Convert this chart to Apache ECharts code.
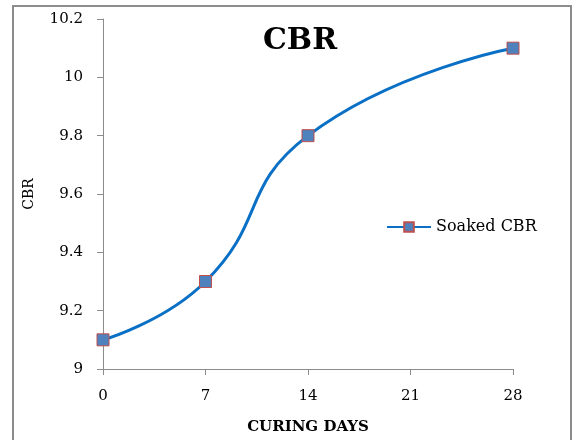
<!DOCTYPE html>
<html><head><meta charset="utf-8">
<script src="https://cdn.jsdelivr.net/npm/echarts@6/dist/echarts.min.js"></script>
<style>html,body{margin:0;padding:0;background:#fff}#c{width:576px;height:440px}</style>
</head><body><div id="c"></div>
<script>
var days = [0, 7, 14, 28];
var soakedCBR = [9.1, 9.3, 9.8, 10.1];
var xTicks = [0, 7, 14, 21, 28];
var seriesName = 'Soaked CBR';

var chart = echarts.init(document.getElementById('c'), null, {renderer: 'canvas'});
var serif = 'DejaVu Serif';
chart.setOption({
  animation: false,
  backgroundColor: '#fff',
  textStyle: {fontFamily: serif},
  graphic: [{type: 'rect', shape: {x: 13, y: 6, width: 558, height: 440}, style: {fill: 'none', stroke: '#8c8c8c', lineWidth: 2}}],
  title: {text: 'CBR', left: 295, top: 21, textAlign: 'center',
    textStyle: {fontFamily: serif, fontSize: 30, fontWeight: 'bold', color: '#000'}},
  legend: {left: 381, top: 214, orient: 'vertical', itemWidth: 44, itemHeight: 12, itemGap: 4,
    textStyle: {fontFamily: serif, fontSize: 16, fontWeight: 'normal', color: '#000'},
    data: [{name: seriesName}]},
  grid: {left: 103, right: 63, top: 19, bottom: 69},
  xAxis: {type: 'value', min: 0, max: 28, interval: 7,
    name: 'CURING DAYS', nameLocation: 'middle', nameGap: 51,
    nameTextStyle: {fontFamily: serif, fontSize: 15, fontWeight: 'bold', color: '#000'},
    axisLine: {lineStyle: {color: '#8c8c8c'}},
    axisTick: {show: true, length: 6, lineStyle: {color: '#8c8c8c'}},
    axisLabel: {fontFamily: serif, fontSize: 15, color: '#000', margin: 20},
    splitLine: {show: false}},
  yAxis: {type: 'value', min: 9, max: 10.2, interval: 0.2,
    name: 'CBR', nameLocation: 'middle', nameGap: 67, nameRotate: 90,
    nameTextStyle: {fontFamily: serif, fontSize: 14, color: '#000'},
    axisLine: {show: true, lineStyle: {color: '#8c8c8c'}},
    axisTick: {show: true, length: 6, lineStyle: {color: '#8c8c8c'}},
    axisLabel: {fontFamily: serif, fontSize: 15, color: '#000', margin: 20,
      formatter: function(v){ return String(Math.round(v*10)/10); }},
    splitLine: {show: false}},
  series: [{
    name: seriesName, type: 'line', smooth: 0.5,
    data: days.map(function(d, i){ return [d, soakedCBR[i]]; }),
    symbol: 'rect', symbolSize: 12,
    lineStyle: {color: '#0a70c6', width: 3},
    itemStyle: {color: '#4f81bd', borderColor: '#c0504d', borderWidth: 1}
  }]
});
</script></body></html>
